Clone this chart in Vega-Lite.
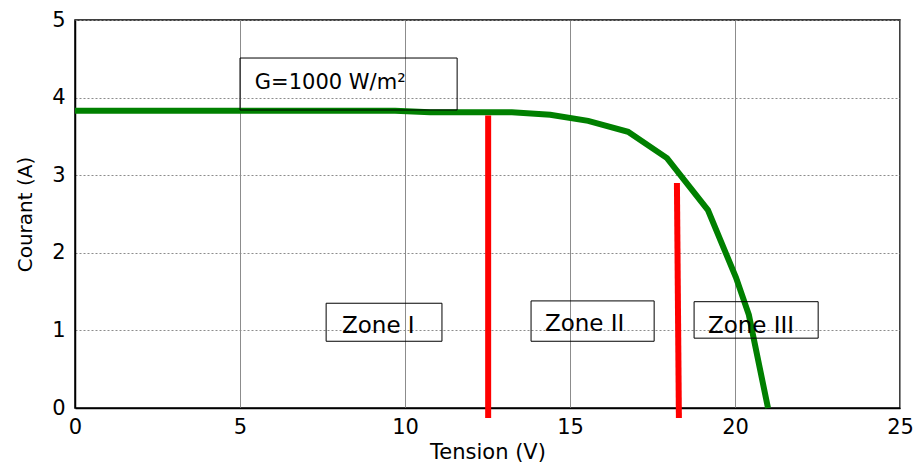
{
  "$schema": "https://vega.github.io/schema/vega-lite/v6.json",
  "autosize": "none",
  "width": 825,
  "height": 388,
  "padding": {"left": 75, "top": 20, "right": 16, "bottom": 67},
  "background": "white",
  "config": {
    "view": {"stroke": "black", "strokeWidth": 1.5},
    "font": "DejaVu Sans"
  },
  "datasets": {
    "curve": [
      {"V": 0, "I": 3.83},
      {"V": 9.7, "I": 3.83},
      {"V": 10.76, "I": 3.81},
      {"V": 13.24, "I": 3.81},
      {"V": 14.4, "I": 3.78},
      {"V": 15.55, "I": 3.7},
      {"V": 16.76, "I": 3.56},
      {"V": 17.94, "I": 3.22},
      {"V": 19.18, "I": 2.55},
      {"V": 20.03, "I": 1.68},
      {"V": 20.42, "I": 1.2},
      {"V": 21.0, "I": 0}
    ],
    "limits": [
      {"x1": 12.52, "y1": 3.77, "x2": 12.52, "y2": -0.13},
      {"x1": 18.24, "y1": 2.9, "x2": 18.3, "y2": -0.13}
    ],
    "boxes": [
      {"x1": 5.0, "x2": 11.58, "y1": 4.51, "y2": 3.84},
      {"x1": 7.61, "x2": 11.12, "y1": 1.35, "y2": 0.86},
      {"x1": 13.82, "x2": 17.55, "y1": 1.38, "y2": 0.86},
      {"x1": 18.76, "x2": 22.52, "y1": 1.37, "y2": 0.9}
    ],
    "labels": [
      {"x": 5.45, "y": 4.11, "label": "G=1000 W/m²", "size": 21},
      {"x": 8.09, "y": 0.97, "label": "Zone I", "size": 23},
      {"x": 14.24, "y": 0.99, "label": "Zone II", "size": 23},
      {"x": 19.18, "y": 0.97, "label": "Zone III", "size": 23}
    ]
  },
  "layer": [
    {
      "data": {"name": "curve"},
      "mark": {"type": "line", "color": "#008000", "strokeWidth": 6, "strokeJoin": "miter", "clip": false},
      "encoding": {
        "x": {
          "field": "V", "type": "quantitative",
          "scale": {"domain": [0, 25], "nice": false, "zero": false},
          "axis": {
            "title": "Tension (V)", "values": [0, 5, 10, 15, 20, 25], "format": "d",
            "labelFont": "DejaVu Sans", "labelFontSize": 21, "labelColor": "black",
            "labelPadding": 8, "ticks": false,
            "domainColor": "black", "domainWidth": 1.5,
            "grid": true, "gridColor": "#8c8c8c", "gridWidth": 1,
            "titleFont": "DejaVu Sans", "titleFontSize": 21, "titleFontWeight": "normal", "titleColor": "black",
            "titlePadding": 4, "labelFlush": false
          }
        },
        "y": {
          "field": "I", "type": "quantitative",
          "scale": {"domain": [0, 5], "nice": false, "zero": false},
          "axis": {
            "title": "Courant (A)", "values": [0, 1, 2, 3, 4, 5], "format": "d",
            "labelFont": "DejaVu Sans", "labelFontSize": 21, "labelColor": "black",
            "labelPadding": 10, "ticks": false,
            "domainColor": "black", "domainWidth": 1.5,
            "grid": true, "gridColor": "#8c8c8c", "gridWidth": 1, "gridDash": [2, 2],
            "titleFont": "DejaVu Sans", "titleFontSize": 20, "titleFontWeight": "normal", "titleColor": "black",
            "titlePadding": 16, "labelFlush": false
          }
        }
      }
    },
    {
      "data": {"name": "limits"},
      "mark": {"type": "rule", "color": "#ff0000", "strokeWidth": 6, "clip": false},
      "encoding": {
        "x": {"field": "x1", "type": "quantitative"},
        "y": {"field": "y1", "type": "quantitative"},
        "x2": {"field": "x2"},
        "y2": {"field": "y2"}
      }
    },
    {
      "data": {"name": "boxes"},
      "mark": {"type": "rect", "fill": null, "fillOpacity": 0, "stroke": "black", "strokeWidth": 1, "clip": false},
      "encoding": {
        "x": {"field": "x1", "type": "quantitative"},
        "x2": {"field": "x2"},
        "y": {"field": "y1", "type": "quantitative"},
        "y2": {"field": "y2"}
      }
    },
    {
      "data": {"name": "labels"},
      "mark": {"type": "text", "align": "left", "baseline": "alphabetic", "font": "DejaVu Sans", "color": "black", "clip": false},
      "encoding": {
        "x": {"field": "x", "type": "quantitative"},
        "y": {"field": "y", "type": "quantitative"},
        "text": {"field": "label"},
        "size": {"field": "size", "type": "quantitative", "scale": null}
      }
    }
  ]
}
